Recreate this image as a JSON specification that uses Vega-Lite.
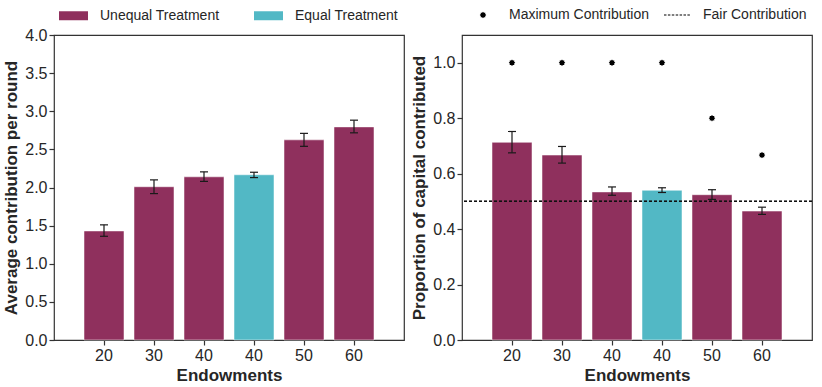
{
  "$schema": "https://vega.github.io/schema/vega-lite/v6.json",
  "background": "white",
  "padding": {"left": 2, "top": 0, "right": 5, "bottom": 0},
  "config": {
    "font": "Liberation Sans",
    "view": {"stroke": "#333333", "strokeWidth": 1.2},
    "axis": {"grid": false, "domain": false, "labelFontSize": 16, "labelColor": "#262626", "titleFontSize": 17, "titleFontWeight": "bold", "titleColor": "#262626", "tickColor": "#333333", "tickSize": 5, "tickWidth": 1.2, "labelPadding": 2, "titlePadding": 4, "labelOverlap": false},
    "legend": {"orient": "none", "direction": "horizontal", "padding": 0, "labelFontSize": 14, "labelColor": "#262626", "symbolStrokeWidth": 0}
  },
  "data": {"values": [
    {"group": "U20", "treatment": "Unequal Treatment", "avg": 1.43, "avg_lo": 1.36, "avg_hi": 1.51, "prop": 0.713, "prop_lo": 0.675, "prop_hi": 0.752, "max": 1.0, "kind": "Maximum Contribution"},
    {"group": "U30", "treatment": "Unequal Treatment", "avg": 2.01, "avg_lo": 1.92, "avg_hi": 2.10, "prop": 0.667, "prop_lo": 0.638, "prop_hi": 0.698, "max": 1.0, "kind": "Maximum Contribution"},
    {"group": "U40", "treatment": "Unequal Treatment", "avg": 2.14, "avg_lo": 2.08, "avg_hi": 2.205, "prop": 0.534, "prop_lo": 0.522, "prop_hi": 0.552, "max": 1.0, "kind": "Maximum Contribution"},
    {"group": "E40", "treatment": "Equal Treatment", "avg": 2.167, "avg_lo": 2.13, "avg_hi": 2.20, "prop": 0.540, "prop_lo": 0.532, "prop_hi": 0.549, "max": 1.0, "kind": "Maximum Contribution"},
    {"group": "U50", "treatment": "Unequal Treatment", "avg": 2.625, "avg_lo": 2.54, "avg_hi": 2.71, "prop": 0.524, "prop_lo": 0.507, "prop_hi": 0.542, "max": 0.8, "kind": "Maximum Contribution"},
    {"group": "U60", "treatment": "Unequal Treatment", "avg": 2.795, "avg_lo": 2.717, "avg_hi": 2.883, "prop": 0.465, "prop_lo": 0.453, "prop_hi": 0.479, "max": 0.667, "kind": "Maximum Contribution"}
  ]},
  "spacing": 58,
  "bounds": "flush",
  "resolve": {"scale": {"color": "independent", "shape": "independent", "y": "independent", "x": "independent"}},
  "hconcat": [
    {
      "width": 350,
      "height": 305,
      "layer": [
        {
          "mark": {"type": "bar", "stroke": "white", "strokeOpacity": 0.5, "strokeWidth": 1},
          "encoding": {
            "x": {"field": "group", "type": "nominal", "title": "Endowments",
              "scale": {"domain": ["U20", "U30", "U40", "E40", "U50", "U60"], "paddingInner": 0.2, "paddingOuter": 0.6},
              "axis": {"labelExpr": "substring(datum.value, 1)", "labelAngle": 0, "bandPosition": 0.5}},
            "y": {"field": "avg", "type": "quantitative", "title": "Average contribution per round",
              "scale": {"domain": [0, 4], "nice": false},
              "axis": {"tickCount": 8, "format": ".1f", "labelOverlap": false, "tickMinStep": 0.5}},
            "color": {"field": "treatment", "type": "nominal",
              "scale": {"domain": ["Unequal Treatment", "Equal Treatment"], "range": ["#8f305d", "#52b8c5"]},
              "legend": {"title": null, "legendX": 5, "legendY": -34, "symbolType": "M-1,-0.31L1,-0.31L1,0.31L-1,0.31Z", "symbolSize": 841, "labelOffset": 12, "columnPadding": 34, "symbolOpacity": 1}}
          }
        },
        {
          "mark": {"type": "rule", "color": "#1a1a1a", "strokeWidth": 1.2},
          "encoding": {
            "x": {"field": "group", "type": "nominal", "title": "Endowments"},
            "y": {"field": "avg_lo", "type": "quantitative", "title": "Average contribution per round"},
            "y2": {"field": "avg_hi"}
          }
        },
        {
          "mark": {"type": "tick", "color": "#1a1a1a", "thickness": 1.2, "size": 8, "opacity": 1},
          "encoding": {
            "x": {"field": "group", "type": "nominal", "title": "Endowments"},
            "y": {"field": "avg_lo", "type": "quantitative", "title": "Average contribution per round"}}
        },
        {
          "mark": {"type": "tick", "color": "#1a1a1a", "thickness": 1.2, "size": 8, "opacity": 1},
          "encoding": {
            "x": {"field": "group", "type": "nominal", "title": "Endowments"},
            "y": {"field": "avg_hi", "type": "quantitative", "title": "Average contribution per round"}}
        }
      ]
    },
    {
      "width": 350,
      "height": 305,
      "layer": [
        {
          "mark": {"type": "bar", "stroke": "white", "strokeOpacity": 0.5, "strokeWidth": 1},
          "encoding": {
            "x": {"field": "group", "type": "nominal", "title": "Endowments",
              "scale": {"domain": ["U20", "U30", "U40", "E40", "U50", "U60"], "paddingInner": 0.2, "paddingOuter": 0.6},
              "axis": {"labelExpr": "substring(datum.value, 1)", "labelAngle": 0, "bandPosition": 0.5}},
            "y": {"field": "prop", "type": "quantitative", "title": "Proportion of capital contributed",
              "scale": {"domain": [0, 1.1], "nice": false},
              "axis": {"values": [0, 0.2, 0.4, 0.6, 0.8, 1.0], "format": ".1f"}},
            "color": {"field": "treatment", "type": "nominal",
              "scale": {"domain": ["Unequal Treatment", "Equal Treatment"], "range": ["#8f305d", "#52b8c5"]},
              "legend": null}
          }
        },
        {
          "mark": {"type": "rule", "color": "#1a1a1a", "strokeWidth": 1.2},
          "encoding": {
            "x": {"field": "group", "type": "nominal", "title": "Endowments"},
            "y": {"field": "prop_lo", "type": "quantitative", "title": "Proportion of capital contributed"},
            "y2": {"field": "prop_hi"}
          }
        },
        {
          "mark": {"type": "tick", "color": "#1a1a1a", "thickness": 1.2, "size": 8, "opacity": 1},
          "encoding": {
            "x": {"field": "group", "type": "nominal", "title": "Endowments"},
            "y": {"field": "prop_lo", "type": "quantitative", "title": "Proportion of capital contributed"}}
        },
        {
          "mark": {"type": "tick", "color": "#1a1a1a", "thickness": 1.2, "size": 8, "opacity": 1},
          "encoding": {
            "x": {"field": "group", "type": "nominal", "title": "Endowments"},
            "y": {"field": "prop_hi", "type": "quantitative", "title": "Proportion of capital contributed"}}
        },
        {
          "mark": {"type": "rule", "color": "#111111", "strokeWidth": 1, "strokeDash": [3, 2]},
          "encoding": {"y": {"datum": 0.5, "type": "quantitative", "title": "Proportion of capital contributed"}}
        },
        {
          "mark": {"type": "point", "filled": true, "color": "#000000", "opacity": 1, "size": 676},
          "encoding": {
            "x": {"field": "group", "type": "nominal", "title": "Endowments"},
            "y": {"field": "max", "type": "quantitative", "title": "Proportion of capital contributed"},
            "shape": {"field": "kind", "type": "nominal",
              "scale": {"domain": ["Maximum Contribution", "Fair Contribution"],
                "range": ["M0.25,0L0.166,0.069L0.177,0.177L0.069,0.166L0,0.25L-0.069,0.166L-0.177,0.177L-0.166,0.069L-0.25,0L-0.166,-0.069L-0.177,-0.177L-0.069,-0.166L0,-0.25L0.069,-0.166L0.177,-0.177L0.166,-0.069Z",
                  "M-1,-0.04h0.19v0.08h-0.19zM-0.7,-0.04h0.19v0.08h-0.19zM-0.4,-0.04h0.19v0.08h-0.19zM-0.1,-0.04h0.19v0.08h-0.19zM0.2,-0.04h0.19v0.08h-0.19zM0.5,-0.04h0.19v0.08h-0.19zM0.8,-0.04h0.19v0.08h-0.19z"]},
              "legend": {"title": null, "legendX": 8, "legendY": -33, "symbolSize": 676, "symbolFillColor": "#000000", "labelOffset": 13, "columnPadding": 14, "symbolOpacity": 1}}
          }
        }
      ]
    }
  ]
}
